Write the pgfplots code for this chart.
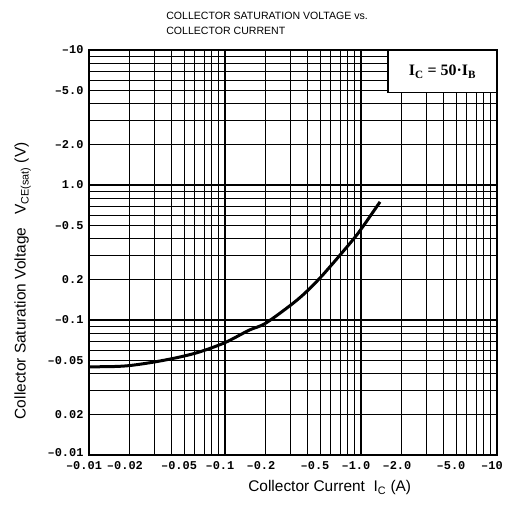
\documentclass[border=0pt]{standalone}
\usepackage{fontspec}
\setmainfont{Liberation Sans}
\newfontfamily\tickfont{Liberation Mono}
\newfontfamily\seriffont{Liberation Serif}
\usepackage{pgfplots}
\pgfplotsset{compat=1.18}

\begin{document}
\begin{tikzpicture}
\begin{axis}[
    scale only axis,
    width=408bp,
    height=405bp,
    xmode=log, ymode=log,
    xmin=0.01, xmax=10,
    ymin=0.01, ymax=10,
    axis line style={line width=1.8bp},
    grid=both,
    major grid style={black, line width=1.1bp},
    minor grid style={black, line width=0.7bp},
    major tick length=0pt,
    minor tick length=0pt,
    xtick={0.01,0.02,0.05,0.1,0.2,0.5,1,2,5,10},
    xticklabels={–0.01,–0.02,–0.05,–0.1,–0.2,–0.5,–1.0,–2.0,–5.0,–10},
    ytick={0.01,0.02,0.05,0.1,0.2,0.5,1,2,5,10},
    yticklabels={\raisebox{6bp}{–0.01},0.02,–0.05,–0.1,0.2,–0.5,1.0,–2.0,–5.0,–10},
    minor xtick={0.03,0.04,0.06,0.07,0.08,0.09,0.3,0.4,0.6,0.7,0.8,0.9,3,4,6,7,8,9},
    minor ytick={0.03,0.04,0.06,0.07,0.08,0.09,0.3,0.4,0.6,0.7,0.8,0.9,3,4,6,7,8,9},
    xticklabel style={font=\tickfont\bfseries\fontsize{12}{14}\selectfont, xshift=-5bp, yshift=-3bp},
    yticklabel style={font=\tickfont\bfseries\fontsize{12}{14}\selectfont, xshift=-2bp},
    xlabel={Collector Current\ \ I\textsubscript{C} (A)},
    ylabel={Collector Saturation Voltage\ \ \ V\textsubscript{CE(sat)} (V)},
    label style={font=\fontsize{15.5}{18}\selectfont},
    xlabel style={at={(ticklabel cs:0.59)}, yshift=-4bp},
    ylabel style={at={(ticklabel cs:0.43)}, yshift=10bp},
    clip=false,
]
\addplot[black, line width=3bp, smooth] coordinates {
    (0.01,0.0450) (0.015,0.0452) (0.02,0.0460) (0.03,0.0488)
    (0.045,0.0528) (0.065,0.0580) (0.1,0.0680) (0.15,0.0840)
    (0.2,0.0950) (0.34,0.141) (0.5,0.205) (0.83,0.370)
    (1.0,0.470) (1.38,0.750)
};
\fill[white] (rel axis cs:0.733,0.896) rectangle (rel axis cs:1,1);
\draw[line width=1.2bp] (rel axis cs:0.733,0.896) rectangle (rel axis cs:1,1);
\node[font=\seriffont\bfseries\fontsize{16}{18}\selectfont] at (rel axis cs:0.8665,0.946)
    {I\textsubscript{C} = 50·I\textsubscript{B}};
\node[anchor=base west, font=\fontsize{10.6}{12}\selectfont] at (rel axis cs:0.181,1) [yshift=30bp]
    {COLLECTOR SATURATION VOLTAGE vs.};
\node[anchor=base west, font=\fontsize{10.6}{12}\selectfont] at (rel axis cs:0.181,1) [yshift=15bp]
    {COLLECTOR CURRENT};
\coordinate (ll) at (rel axis cs:0,0);
\coordinate (ur) at (rel axis cs:1,1);
\end{axis}
\pgfresetboundingbox
\path (ll) ++(-89bp,-55bp) coordinate (a);
\path (ur) ++(11bp,50bp) coordinate (b);
\useasboundingbox (a) rectangle (b);
\end{tikzpicture}
\end{document}
